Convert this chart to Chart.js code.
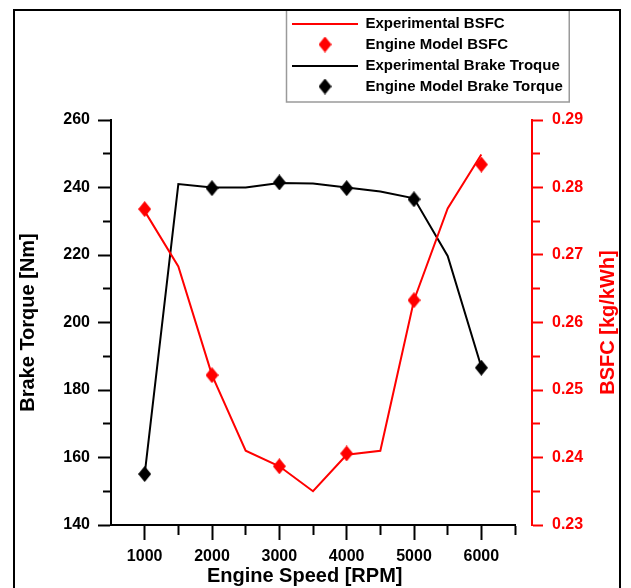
<!DOCTYPE html>
<html>
<head>
<meta charset="utf-8">
<style>
  html, body { margin: 0; padding: 0; background: #fff; }
  canvas { display: block; }
</style>
<script src="https://cdn.jsdelivr.net/npm/chart.js@4/dist/chart.umd.min.js"></script>
</head>
<body>
<canvas id="chart" width="631" height="588"></canvas>
<script>
// engine speed [RPM]
const speedExp = [1000, 1500, 2000, 2500, 3000, 3500, 4000, 4500, 5000, 5500, 6000];
const speedModel = [1000, 2000, 3000, 4000, 5000, 6000];

// brake torque [Nm]
const torqueExp = [155, 241, 240, 240, 241.3, 241.2, 240, 238.8, 236.8, 219.7, 186.8];
const torqueModel = [155.1, 239.8, 241.5, 239.8, 236.5, 186.6];

// BSFC [kg/kWh]
const bsfcExp = [0.2765, 0.2683, 0.2522, 0.2410, 0.2387, 0.2350, 0.2404, 0.2410, 0.2633, 0.2769, 0.2849];
const bsfcModel = [0.2768, 0.2522, 0.2387, 0.2406, 0.2633, 0.2834];

// labelled ticks
const speedTicks = [1000, 2000, 3000, 4000, 5000, 6000];
const torqueTicks = [140, 160, 180, 200, 220, 240, 260];
const bsfcTicks = [0.23, 0.24, 0.25, 0.26, 0.27, 0.28, 0.29];

const RED = '#ff0000';
const BLACK = '#000000';
const FONT = "'Liberation Sans', Arial, sans-serif";

Chart.defaults.font.family = FONT;
Chart.defaults.font.weight = 'bold';
Chart.defaults.color = BLACK;

function diamond(color, w, h) {
  const c = document.createElement('canvas');
  c.width = w; c.height = h;
  const g = c.getContext('2d');
  g.fillStyle = color;
  g.beginPath();
  g.moveTo(w / 2, 0);
  g.lineTo(w, h / 2);
  g.lineTo(w / 2, h);
  g.lineTo(0, h / 2);
  g.closePath();
  g.fill();
  return c;
}

function legendLine(color) {
  const c = document.createElement('canvas');
  c.width = 66; c.height = 2;
  const g = c.getContext('2d');
  g.fillStyle = color;
  g.fillRect(0, 0, 66, 2);
  return c;
}

const isIn = (list, v) => list.some(t => Math.abs(t - v) < 1e-6);
const pts = (xs, ys) => xs.map((x, i) => ({ x: x, y: ys[i] }));

const frame = {
  id: 'frame',
  afterLayout(chart) {
    const lg = chart.legend;
    const dx = 286 - lg.left, dy = 10 - lg.top;
    lg.left += dx; lg.right += dx;
    lg.top += dy; lg.bottom += dy;
    // BSFC axis sits a little right of the plot
    chart.scales.y2.left += 17;
  },
  afterDraw(chart) {
    const ctx = chart.ctx;
    const lg = chart.legend;
    const area = chart.chartArea;
    const w = Math.max(...lg.legendHitBoxes.map(h => h.width));
    ctx.save();
    ctx.strokeStyle = '#9a9a9a';
    ctx.lineWidth = 1.5;
    ctx.strokeRect(lg.left + 0.5, lg.top, 6 + w + 6, 92);

    // right axis title reads bottom-to-top, like the left one
    const t = chart.options.scales.y2.title;
    ctx.fillStyle = RED;
    ctx.font = 'bold 20px ' + FONT;
    ctx.textAlign = 'center';
    ctx.textBaseline = 'middle';
    ctx.translate(608, (area.top + area.bottom) / 2);
    ctx.rotate(-Math.PI / 2);
    ctx.fillText(t.text, 0, 0);
    ctx.setTransform(1, 0, 0, 1, 0, 0);

    ctx.strokeStyle = BLACK;
    ctx.lineWidth = 2;
    ctx.beginPath();
    ctx.moveTo(14, 588);
    ctx.lineTo(14, 10);
    ctx.lineTo(620, 10);
    ctx.lineTo(620, 588);
    ctx.stroke();
    ctx.restore();
  }
};

new Chart(document.getElementById('chart'), {
  type: 'line',
  data: {
    datasets: [
      {
        label: 'Experimental BSFC',
        data: pts(speedExp, bsfcExp),
        yAxisID: 'y2',
        borderColor: RED,
        borderWidth: 2,
        pointRadius: 0,
        pointStyle: legendLine(RED),
        tension: 0
      },
      {
        label: 'Engine Model BSFC',
        data: pts(speedModel, bsfcModel),
        yAxisID: 'y2',
        showLine: false,
        backgroundColor: RED,
        borderColor: RED,
        pointRadius: 7,
        pointStyle: diamond(RED, 13, 16)
      },
      {
        label: 'Experimental Brake Troque',
        data: pts(speedExp, torqueExp),
        yAxisID: 'y',
        borderColor: BLACK,
        borderWidth: 2,
        pointRadius: 0,
        pointStyle: legendLine(BLACK),
        tension: 0
      },
      {
        label: 'Engine Model Brake Torque',
        data: pts(speedModel, torqueModel),
        yAxisID: 'y',
        showLine: false,
        backgroundColor: BLACK,
        borderColor: BLACK,
        pointRadius: 7,
        pointStyle: diamond(BLACK, 13, 16)
      }
    ]
  },
  options: {
    responsive: false,
    animation: false,
    devicePixelRatio: 1,
    layout: { padding: { top: 26, left: 0, right: 0, bottom: 0 } },
    plugins: {
      tooltip: { enabled: false },
      legend: {
        position: 'top',
        align: 'start',
        fullSize: false,
        labels: {
          usePointStyle: true,
          pointStyleWidth: 66,
          padding: 6,
          color: BLACK,
          font: { size: 15, weight: 'bold' }
        }
      }
    },
    scales: {
      x: {
        type: 'linear',
        min: 500,
        max: 6500,
        ticks: {
          stepSize: 500,
          autoSkip: false,
          maxRotation: 0,
          minRotation: 0,
          padding: 7,
          color: BLACK,
          font: { size: 16, weight: 'bold' },
          callback: v => isIn(speedTicks, v) ? String(v) : ''
        },
        grid: {
          drawOnChartArea: false,
          tickLength: 15,
          tickWidth: 2,
          tickColor: c => (c.tick && c.tick.value === 500) ? 'rgba(0,0,0,0)' : BLACK,
          tickBorderDash: c => (c.tick && isIn(speedTicks, c.tick.value)) ? [] : [9, 30]
        },
        border: { color: BLACK, width: 2 },
        title: {
          display: true,
          text: 'Engine Speed [RPM]   ',
          color: BLACK,
          font: { size: 20, weight: 'bold' },
          padding: { top: 0, bottom: 0 }
        },
        afterFit: s => { s.height = 63; }
      },
      y: {
        position: 'left',
        min: 140,
        max: 260,
        ticks: {
          stepSize: 10,
          autoSkip: false,
          padding: 8,
          color: BLACK,
          font: { size: 16, weight: 'bold' },
          callback: v => isIn(torqueTicks, v) ? String(v) : ''
        },
        grid: {
          drawOnChartArea: false,
          tickLength: 13,
          tickWidth: 2,
          tickColor: BLACK,
          tickBorderDash: c => (c.tick && isIn(torqueTicks, c.tick.value)) ? [] : [7, 5],
          tickBorderDashOffset: c => (c.tick && isIn(torqueTicks, c.tick.value)) ? 0 : 7
        },
        border: { color: BLACK, width: 2 },
        title: {
          display: true,
          text: 'Brake Torque [Nm]',
          color: BLACK,
          font: { size: 20, weight: 'bold' },
          padding: { top: 16, bottom: 0 }
        },
        afterFit: s => { s.width = 111; }
      },
      y2: {
        position: 'right',
        min: 0.23,
        max: 0.29,
        ticks: {
          stepSize: 0.005,
          autoSkip: false,
          padding: 9,
          color: RED,
          font: { size: 16, weight: 'bold' },
          callback: v => isIn(bsfcTicks, v) ? v.toFixed(2) : ''
        },
        grid: {
          drawOnChartArea: false,
          tickLength: 11,
          tickWidth: 2,
          tickColor: RED,
          tickBorderDash: c => (c.tick && isIn(bsfcTicks, c.tick.value)) ? [] : [7, 20]
        },
        border: { color: RED, width: 2 },
        title: {
          display: false,
          text: 'BSFC [kg/kWh]',
          color: RED,
          font: { size: 20, weight: 'bold' }
        },
        afterFit: s => { s.width = 116; }
      }
    }
  },
  plugins: [frame]
});
</script>
</body>
</html>
